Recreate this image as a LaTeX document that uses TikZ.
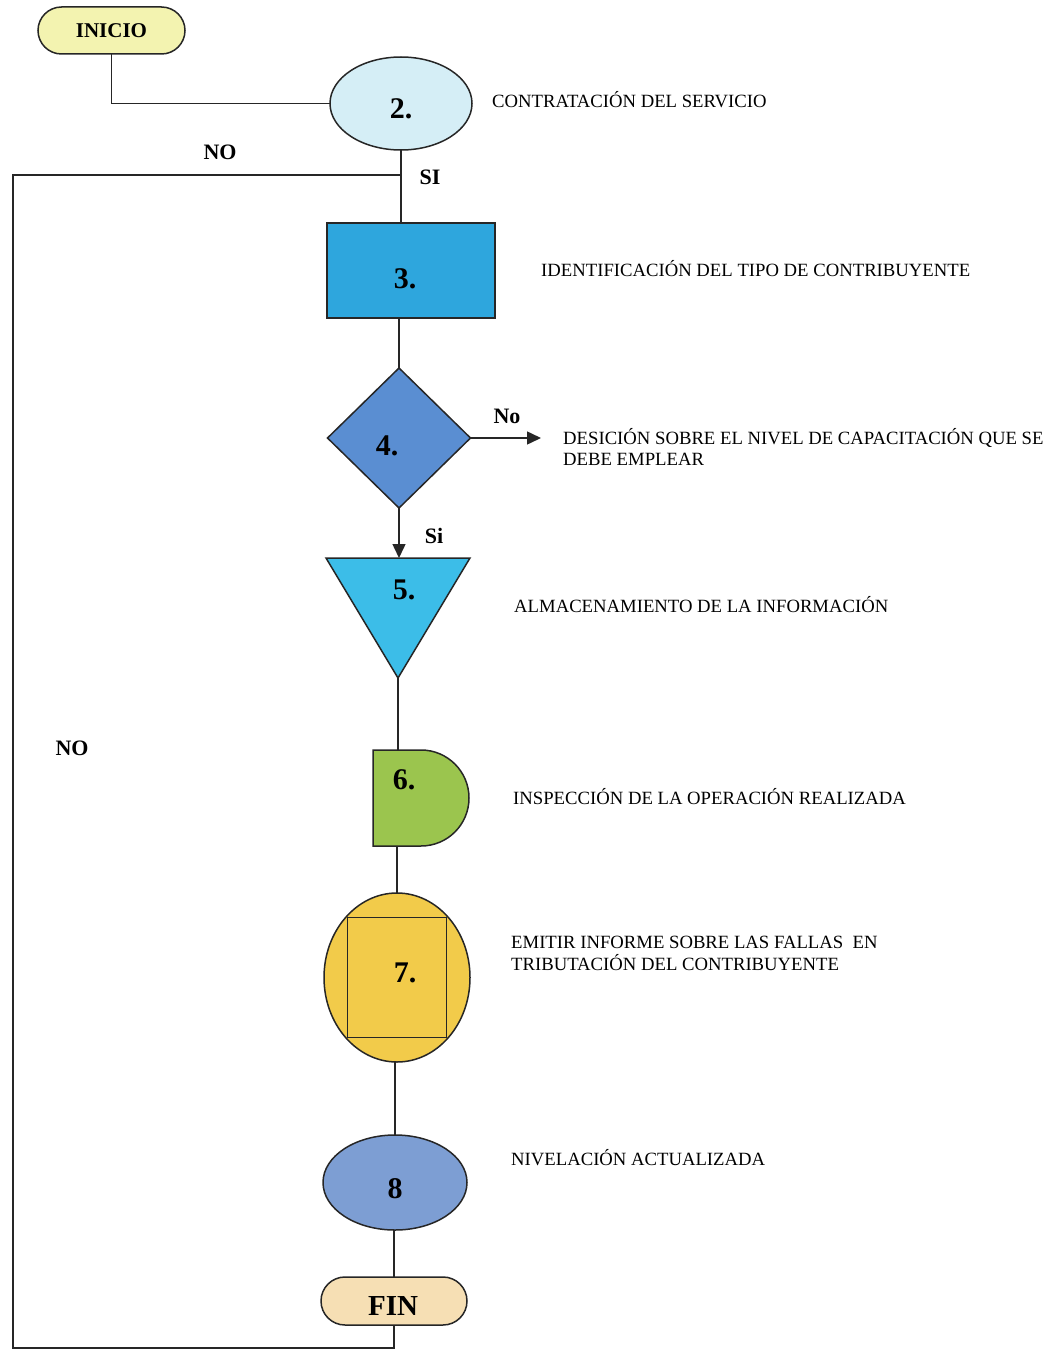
\documentclass[tikz,border=0pt]{standalone}
\usepackage{fontspec}
\setmainfont{Liberation Serif}
\usetikzlibrary{shapes.geometric,shapes.misc,arrows.meta}
\definecolor{cIni}{HTML}{F3F3B0}
\definecolor{cE2}{HTML}{D5EEF6}
\definecolor{cR3}{HTML}{2EA6DD}
\definecolor{cD4}{HTML}{5A8ED2}
\definecolor{cT5}{HTML}{3CBDE8}
\definecolor{cD6}{HTML}{9BC54E}
\definecolor{cE7}{HTML}{F2CB4A}
\definecolor{cE8}{HTML}{7D9ED3}
\definecolor{cFin}{HTML}{F6DFB4}
\tikzset{
  ln/.style={line width=1.5pt, draw=black!85},
  shp/.style={ln, inner sep=0pt, outer sep=0pt},
  ghost/.style={inner sep=0pt, outer sep=0pt, draw=none},
  num/.style={font=\fontsize{30}{32}\selectfont\bfseries, inner sep=0pt},
  lbl/.style={font=\fontsize{22}{24}\selectfont\bfseries, inner sep=0pt},
  desc/.style={font=\fontsize{18.7}{21}\selectfont, inner sep=0pt, anchor=base west},
  arr/.style={ln, -{Triangle[length=14pt,width=13pt]}}
}
\begin{document}
\begin{tikzpicture}[x=1pt,y=-1pt]
\useasboundingbox (0,0) rectangle (1052,1359);
% shapes
\node[shp, rounded rectangle, fill=cIni, minimum width=147pt, minimum height=47pt,
      font=\fontsize{21}{23}\selectfont\bfseries] (ini) at (111.5,30.5) {INICIO};
\node[shp, ellipse, fill=cE2, minimum width=142pt, minimum height=93pt] (e2) at (401,103.5) {};
\node[num] (t2) at (401,109) {2.};
\node[shp, rectangle, fill=cR3, minimum width=168pt, minimum height=95pt] (r3) at (411,270.5) {};
\node[num] (t3) at (405,279) {3.};
\node[shp, diamond, fill=cD4, minimum width=143pt, minimum height=140pt] (d4) at (399,438) {};
\node[num] (t4) at (387,446) {4.};
\node[ghost, minimum width=144pt, minimum height=120pt] (n5) at (398,618) {};
\draw[ln, fill=cT5] (n5.north west) -- (n5.north east) -- (n5.south) -- cycle;
\node[num] (t5) at (404,590) {5.};
\node[ghost, minimum width=96pt, minimum height=96pt] (n6) at (421,798) {};
\draw[ln, fill=cD6] (n6.north west) -- (n6.north) arc[start angle=90, end angle=-90, radius=48pt] -- (n6.south west) -- cycle;
\node[num] (t6) at (404,780) {6.};
\node[shp, ellipse, fill=cE7, minimum width=146pt, minimum height=169pt] (e7) at (397,977.5) {};
\draw[ln] ([shift={(-49.5pt,60pt)}]e7.center) rectangle ([shift={(49.5pt,-60pt)}]e7.center);
\node[num] (t7) at (405,973) {7.};
\node[shp, ellipse, fill=cE8, minimum width=144pt, minimum height=95pt] (e8) at (395,1182.5) {};
\node[num] (t8) at (395,1189) {8};
\node[shp, rounded rectangle, fill=cFin, minimum width=146pt, minimum height=48pt] (fin) at (394,1301) {};
\node[inner sep=0pt, font=\fontsize{29}{31}\selectfont\bfseries] (tfin) at (393,1306) {FIN};
% coordinates
\coordinate (j) at (400,175);
\coordinate (c1) at (394,1348);
\coordinate (c2) at (13,1348);
\coordinate (c3) at (13,175);
\coordinate (a4) at (541,438);
% connectors
\draw[ln] (ini.south) |- (e2.west);
\draw[ln] (e2.south) -- (e2.south |- r3.north);
\draw[ln] (d4.north |- r3.south) -- (d4.north);
\draw[arr] (d4.east) -- (a4);
\draw[arr] (d4.south) -- (d4.south |- n5.north);
\draw[ln] (n5.south) -- (n5.south |- n6.north);
\draw[ln] (e7.north |- n6.south) -- (e7.north);
\draw[ln] (e8.north |- e7.south) -- (e8.north);
\draw[ln] (fin.north |- e8.south) -- (fin.north);
\draw[ln] (fin.south) -- (c1) -- (c2) -- (c3) -- (j);
% labels
\node[lbl] at (220,152) {NO};
\node[lbl] at (430,177) {SI};
\node[lbl] at (507,416) {No};
\node[lbl] at (434,536) {Si};
\node[lbl] at (72,748) {NO};
% descriptions
\node[desc] at (492,108) {CONTRATACIÓN DEL SERVICIO};
\node[desc] at (541,276) {IDENTIFICACIÓN DEL TIPO DE CONTRIBUYENTE};
\node[desc] at (563,444) {DESICIÓN SOBRE EL NIVEL DE CAPACITACIÓN QUE SE};
\node[desc] at (563,465) {DEBE EMPLEAR};
\node[desc] at (514,612) {ALMACENAMIENTO DE LA INFORMACIÓN};
\node[desc] at (513,804) {INSPECCIÓN DE LA OPERACIÓN REALIZADA};
\node[desc] at (511,948) {EMITIR INFORME SOBRE LAS FALLAS\ \ EN};
\node[desc] at (511,970) {TRIBUTACIÓN DEL CONTRIBUYENTE};
\node[desc] at (511,1165) {NIVELACIÓN ACTUALIZADA};
\end{tikzpicture}
\end{document}
